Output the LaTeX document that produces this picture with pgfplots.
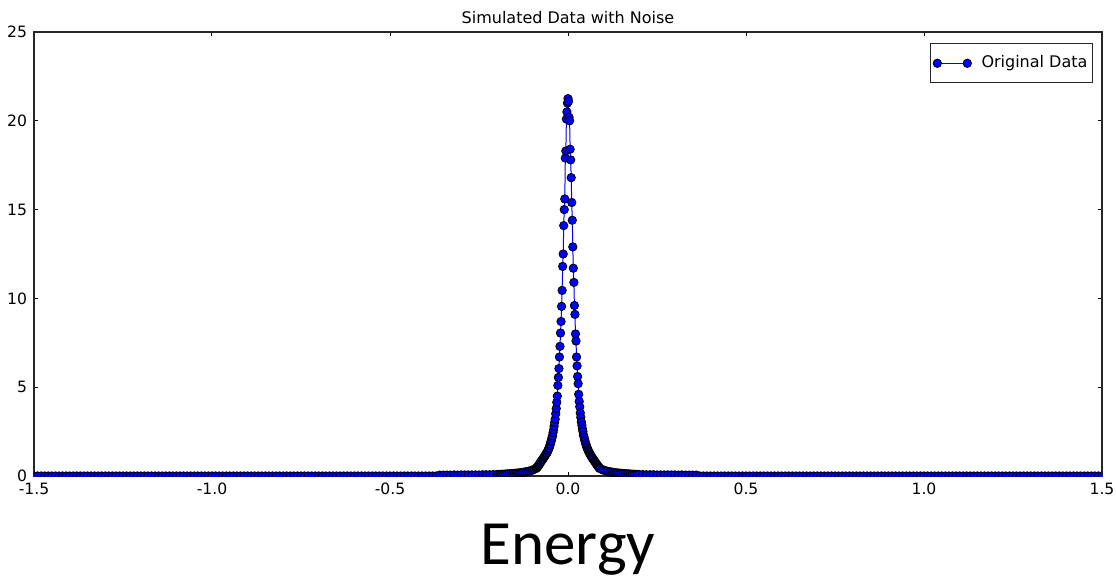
\documentclass[border=0pt]{standalone}
\usepackage{pgfplots}
\pgfplotsset{compat=1.18}
\usepackage{fontspec}
\setmainfont{DejaVu Sans}
\newfontfamily\carlito{Carlito}
\begin{document}
\begin{tikzpicture}
\useasboundingbox (-17pt,-52pt) rectangle (541pt,238pt);
\begin{axis}[
  at={(0,0)}, anchor=south west,
  scale only axis, width=534pt, height=222pt,
  xmin=-1.5, xmax=1.5, ymin=0, ymax=25,
  xtick={-1.5,-1,-0.5,0,0.5,1,1.5},
  ytick={0,5,10,15,20,25},
  xticklabel style={/pgf/number format/.cd, fixed, fixed zerofill, precision=1},
  /pgf/number format/assume math mode=true,
  ticklabel style={font=\fontsize{7.8}{9}\selectfont, black},
  tick align=inside, major tick length=2pt,
  tick style={black, line width=0.5pt},
  axis line style={black!85, line width=0.6pt},
  title={Simulated Data with Noise},
  title style={font=\fontsize{8}{10}\selectfont, at={(axis description cs:0.5,1)}, anchor=base, yshift=-1.5pt},
  xlabel={\carlito Energy},
  xlabel style={font=\fontsize{31.5}{36}\selectfont, at={(axis description cs:0.5,0)}, anchor=base, yshift=-44pt},
  legend style={at={(rel axis cs:0.9916,0.975)}, anchor=north east, font=\fontsize{8}{10}\selectfont, draw=black!85, line width=0.6pt, inner xsep=1.5pt, inner ysep=4pt, nodes={inner xsep=1pt}, column sep=4pt},
  legend image code/.code={\draw plot coordinates {(0pt,0pt) (15pt,0pt)};},
  clip marker paths=true,
]
\addplot[blue, line width=0.5pt, mark=*, mark size=2.1pt, mark options={fill=blue, draw=black, line width=0.4pt}] coordinates {
(-1.50,0)(-1.49,0)(-1.48,0)(-1.47,0)(-1.46,0)(-1.45,0)(-1.44,0)(-1.43,0)(-1.42,0)(-1.41,0)
(-1.40,0)(-1.39,0)(-1.38,0)(-1.37,0)(-1.36,0)(-1.35,0)(-1.34,0)(-1.33,0)(-1.32,0)(-1.31,0)
(-1.30,0)(-1.29,0)(-1.28,0)(-1.27,0)(-1.26,0)(-1.25,0)(-1.24,0)(-1.23,0)(-1.22,0)(-1.21,0)
(-1.20,0)(-1.19,0)(-1.18,0)(-1.17,0)(-1.16,0)(-1.15,0)(-1.14,0)(-1.13,0)(-1.12,0)(-1.11,0)
(-1.10,0)(-1.09,0)(-1.08,0)(-1.07,0)(-1.06,0)(-1.05,0)(-1.04,0)(-1.03,0)(-1.02,0)(-1.01,0)
(-1.00,0)(-0.99,0)(-0.98,0)(-0.97,0)(-0.96,0)(-0.95,0)(-0.94,0)(-0.93,0)(-0.92,0)(-0.91,0)
(-0.90,0)(-0.89,0)(-0.88,0)(-0.87,0)(-0.86,0)(-0.85,0)(-0.84,0)(-0.83,0)(-0.82,0)(-0.81,0)
(-0.80,0)(-0.79,0)(-0.78,0)(-0.77,0)(-0.76,0)(-0.75,0)(-0.74,0)(-0.73,0)(-0.72,0)(-0.71,0)
(-0.70,0)(-0.69,0)(-0.68,0)(-0.67,0)(-0.66,0)(-0.65,0)(-0.64,0)(-0.63,0)(-0.62,0)(-0.61,0)
(-0.60,0)(-0.59,0)(-0.58,0)(-0.57,0)(-0.56,0)(-0.55,0)(-0.54,0)(-0.53,0)(-0.52,0)(-0.51,0)
(-0.50,0)(-0.49,0)(-0.48,0)(-0.47,0)(-0.46,0)(-0.45,0)(-0.44,0)(-0.43,0)(-0.42,0)(-0.41,0)
(-0.40,0)(-0.39,0)(-0.38,0)(-0.37,0)
(-0.36,0.05)(-0.35,0.05)(-0.34,0.05)(-0.33,0.05)(-0.32,0.06)(-0.31,0.05)(-0.30,0.06)(-0.29,0.06)
(-0.28,0.06)(-0.27,0.06)(-0.26,0.06)(-0.25,0.06)(-0.24,0.07)(-0.23,0.07)(-0.22,0.07)(-0.21,0.08)
(-0.200,0.08)(-0.195,0.09)(-0.190,0.09)(-0.185,0.10)(-0.180,0.10)(-0.175,0.11)(-0.170,0.12)(-0.165,0.12)
(-0.160,0.13)(-0.155,0.14)(-0.150,0.15)(-0.145,0.16)(-0.140,0.17)(-0.135,0.18)(-0.130,0.19)(-0.125,0.21)
(-0.120,0.23)(-0.115,0.25)(-0.110,0.27)(-0.105,0.30)(-0.100,0.33)(-0.095,0.38)
(-0.0900,0.42)(-0.0885,0.45)(-0.0870,0.48)(-0.0855,0.52)(-0.0840,0.56)(-0.0825,0.60)(-0.0810,0.64)(-0.0795,0.69)
(-0.0780,0.74)(-0.0765,0.79)(-0.0750,0.84)(-0.0735,0.88)(-0.0720,0.92)(-0.0705,0.96)(-0.0690,1.00)(-0.0675,1.05)
(-0.0660,1.10)(-0.0645,1.15)(-0.0630,1.19)(-0.0615,1.25)(-0.0600,1.30)(-0.0585,1.31)(-0.0570,1.41)(-0.0555,1.46)
(-0.0540,1.55)(-0.0525,1.60)(-0.0510,1.72)(-0.0495,1.80)(-0.0480,1.93)(-0.0465,2.01)(-0.0450,2.16)(-0.0435,2.27)
(-0.0420,2.45)(-0.0405,2.60)(-0.0390,2.80)(-0.0375,3.02)(-0.0360,3.20)(-0.0345,3.50)(-0.0330,3.80)(-0.0315,4.15)
(-0.0300,4.50)(-0.0285,5.10)(-0.0270,5.55)(-0.0255,6.05)(-0.0240,6.70)(-0.0225,7.30)(-0.0210,8.05)(-0.0195,8.70)
(-0.0180,9.55)(-0.0165,10.45)(-0.0150,11.80)(-0.0135,12.50)(-0.0120,14.10)(-0.0105,15.00)(-0.0090,15.60)(-0.0075,17.90)
(-0.0060,18.30)(-0.0045,20.10)(-0.0030,20.50)(-0.0015,21.00)(0.0000,21.25)
(0.0015,21.10)(0.0030,20.20)(0.0045,20.00)(0.0060,18.40)(0.0075,17.80)(0.0090,16.80)(0.0105,15.40)(0.0120,14.40)
(0.0135,12.90)(0.0150,11.70)(0.0165,10.90)(0.0180,9.60)(0.0195,9.10)(0.0210,8.00)(0.0225,7.60)(0.0240,6.70)
(0.0255,6.20)(0.0270,5.60)(0.0285,5.20)(0.0300,4.60)(0.0315,4.20)(0.0330,3.90)(0.0345,3.55)(0.0360,3.30)
(0.0375,3.05)(0.0390,2.85)(0.0405,2.65)(0.0420,2.50)(0.0435,2.30)(0.0450,2.20)(0.0465,2.05)(0.0480,1.95)
(0.0495,1.83)(0.0510,1.75)(0.0525,1.64)(0.0540,1.58)(0.0555,1.49)(0.0570,1.43)(0.0585,1.36)(0.0600,1.31)
(0.0615,1.24)(0.0630,1.20)(0.0645,1.14)(0.0660,1.09)(0.0675,1.05)(0.0690,0.99)(0.0705,0.96)(0.0720,0.91)
(0.0735,0.87)(0.0750,0.83)(0.0765,0.78)(0.0780,0.74)(0.0795,0.68)(0.0810,0.65)(0.0825,0.60)(0.0840,0.56)
(0.0855,0.51)(0.0870,0.49)(0.0885,0.44)(0.0900,0.42)
(0.095,0.37)(0.100,0.33)(0.105,0.30)(0.110,0.27)(0.115,0.25)(0.120,0.23)(0.125,0.21)(0.130,0.19)
(0.135,0.18)(0.140,0.17)(0.145,0.16)(0.150,0.15)(0.155,0.14)(0.160,0.13)(0.165,0.12)(0.170,0.12)
(0.175,0.11)(0.180,0.10)(0.185,0.10)(0.190,0.09)(0.195,0.09)(0.200,0.08)
(0.21,0.08)(0.22,0.07)(0.23,0.07)(0.24,0.07)(0.25,0.06)(0.26,0.06)(0.27,0.06)(0.28,0.06)
(0.29,0.06)(0.30,0.06)(0.31,0.05)(0.32,0.06)(0.33,0.05)(0.34,0.05)(0.35,0.05)(0.36,0.05)
(0.37,0)(0.38,0)(0.39,0)
(0.40,0)(0.41,0)(0.42,0)(0.43,0)(0.44,0)(0.45,0)(0.46,0)(0.47,0)(0.48,0)(0.49,0)
(0.50,0)(0.51,0)(0.52,0)(0.53,0)(0.54,0)(0.55,0)(0.56,0)(0.57,0)(0.58,0)(0.59,0)
(0.60,0)(0.61,0)(0.62,0)(0.63,0)(0.64,0)(0.65,0)(0.66,0)(0.67,0)(0.68,0)(0.69,0)
(0.70,0)(0.71,0)(0.72,0)(0.73,0)(0.74,0)(0.75,0)(0.76,0)(0.77,0)(0.78,0)(0.79,0)
(0.80,0)(0.81,0)(0.82,0)(0.83,0)(0.84,0)(0.85,0)(0.86,0)(0.87,0)(0.88,0)(0.89,0)
(0.90,0)(0.91,0)(0.92,0)(0.93,0)(0.94,0)(0.95,0)(0.96,0)(0.97,0)(0.98,0)(0.99,0)
(1.00,0)(1.01,0)(1.02,0)(1.03,0)(1.04,0)(1.05,0)(1.06,0)(1.07,0)(1.08,0)(1.09,0)
(1.10,0)(1.11,0)(1.12,0)(1.13,0)(1.14,0)(1.15,0)(1.16,0)(1.17,0)(1.18,0)(1.19,0)
(1.20,0)(1.21,0)(1.22,0)(1.23,0)(1.24,0)(1.25,0)(1.26,0)(1.27,0)(1.28,0)(1.29,0)
(1.30,0)(1.31,0)(1.32,0)(1.33,0)(1.34,0)(1.35,0)(1.36,0)(1.37,0)(1.38,0)(1.39,0)
(1.40,0)(1.41,0)(1.42,0)(1.43,0)(1.44,0)(1.45,0)(1.46,0)(1.47,0)(1.48,0)(1.49,0)
(1.50,0)
};
\addlegendentry{Original Data}
\end{axis}
\end{tikzpicture}
\end{document}
